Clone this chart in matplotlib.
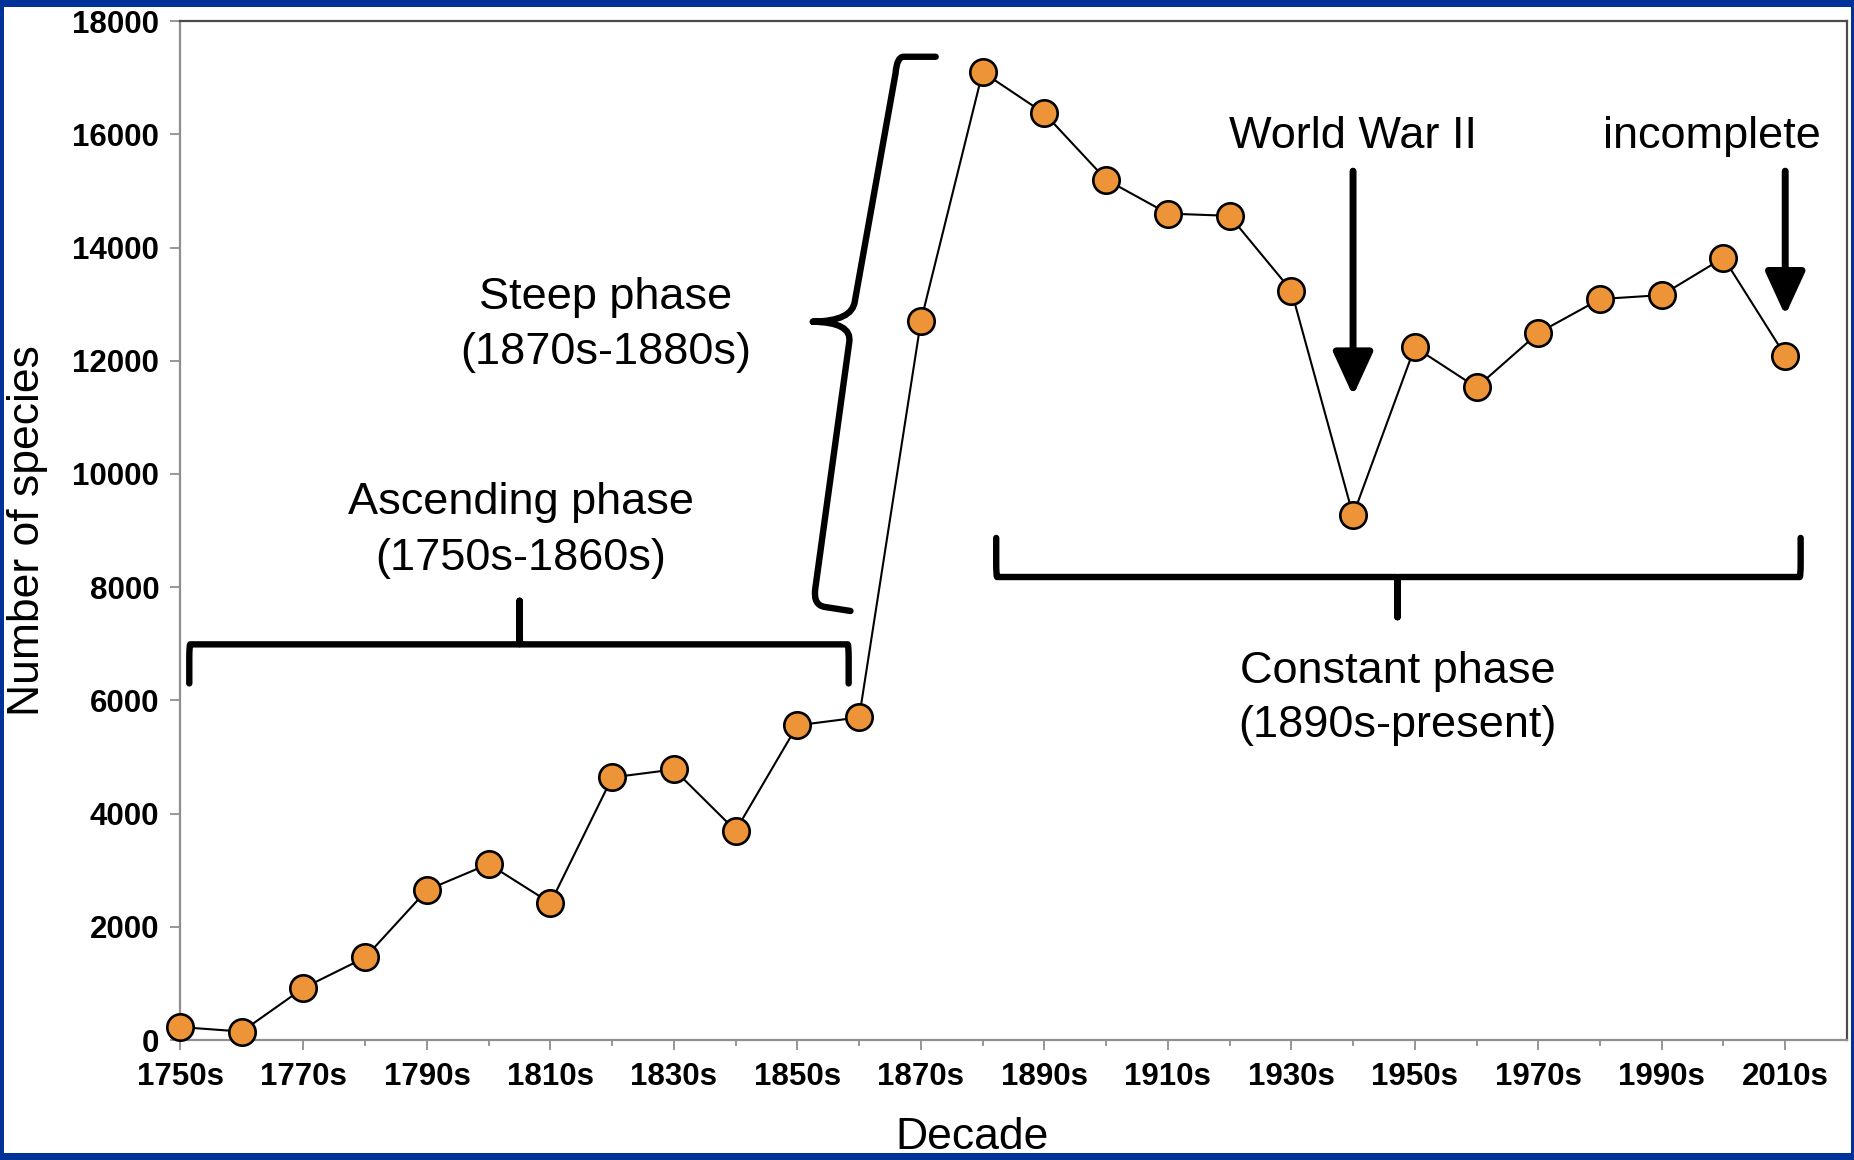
import numpy as np
import matplotlib
matplotlib.use('Agg')
import matplotlib.pyplot as plt
from matplotlib.path import Path
from matplotlib.patches import PathPatch, Rectangle

plt.rcParams['font.family'] = ['Liberation Sans', 'DejaVu Sans']

# species described per decade
decades = [1750, 1760, 1770, 1780, 1790, 1800, 1810, 1820, 1830, 1840,
           1850, 1860, 1870, 1880, 1890, 1900, 1910, 1920, 1930, 1940,
           1950, 1960, 1970, 1980, 1990, 2000, 2010]
species = [230, 150, 920, 1460, 2650, 3110, 2420, 4640, 4780, 3700,
           5560, 5700, 12700, 17100, 16370, 15200, 14600, 14560, 13240, 9270,
           12240, 11530, 12490, 13090, 13160, 13820, 12090]
labeled_decades = decades[::2]
tick_labels = ['%ds' % d for d in labeled_decades]

BLUE = '#00339A'
ORANGE = '#EE9438'

fig = plt.figure(figsize=(18.54, 11.6), dpi=100)
fig.patch.set_facecolor('white')
ax = fig.add_axes([0.0971, 0.1034, 0.8991, 0.8784])

ax.plot(decades, species, color='black', lw=1.5, marker='o', ms=19,
        mfc=ORANGE, mec='black', mew=1.9, zorder=3, clip_on=False)

ax.set_xlim(1750, 2020)
ax.set_ylim(0, 18000)
ax.set_yticks(np.arange(0, 18001, 2000))
ax.set_xticks(labeled_decades)
ax.set_xticklabels(tick_labels)
ax.set_xticks(decades[1::2], minor=True)

for s in ['left', 'bottom']:
    ax.spines[s].set_color('#8f8f8f')
    ax.spines[s].set_linewidth(1.6)
for s in ['top', 'right']:
    ax.spines[s].set_color('#4a4a4a')
    ax.spines[s].set_linewidth(1.6)

ax.tick_params(axis='both', which='major', direction='out', length=7,
               width=1.3, color='#8f8f8f', labelsize=22.5)
ax.tick_params(axis='x', which='minor', direction='out', length=4.5,
               width=1.3, color='#8f8f8f')
ax.tick_params(axis='x', pad=9)
ax.tick_params(axis='y', pad=8)
for lab in ax.get_xticklabels() + ax.get_yticklabels():
    lab.set_fontweight('bold')

ax.set_ylabel('Number of species', fontsize=32)
ax.yaxis.set_label_coords(-0.079, 0.5)
ax.set_xlabel('Decade', fontsize=32)
ax.xaxis.set_label_coords(0.475, -0.0756)


def hbrace(x0, x1, xt, yb, ye, yt, rx=0.15, ry=260, rt=260):
    s = np.sign(ye - yb)
    st = np.sign(yt - yb)
    verts = [(x0, ye), (x0, yb + s * ry), (x0, yb), (x0 + rx, yb),
             (xt - rx, yb), (xt, yb), (xt, yb + st * rt), (xt, yt),
             (xt, yt), (xt, yb + st * rt), (xt, yb), (xt + rx, yb),
             (x1 - rx, yb), (x1, yb), (x1, yb + s * ry), (x1, ye)]
    codes = [Path.MOVETO, Path.LINETO, Path.CURVE3, Path.CURVE3,
             Path.LINETO, Path.CURVE3, Path.CURVE3, Path.LINETO,
             Path.MOVETO, Path.LINETO, Path.CURVE3, Path.CURVE3,
             Path.LINETO, Path.CURVE3, Path.CURVE3, Path.LINETO]
    return Path(verts, codes)


brace_kw = dict(fill=False, lw=4.6, edgecolor='black', capstyle='round',
                joinstyle='round', zorder=4)

# ascending phase brace
ax.add_patch(PathPatch(hbrace(1751.5, 1858.3, 1805.0, 6990, 6300, 7760), **brace_kw))
# constant phase brace
ax.add_patch(PathPatch(hbrace(1882.2, 2012.5, 1947.2, 8180, 8870, 7470), **brace_kw))

# steep phase brace (slanted, opening to the right)
steep_verts = [(1872.4, 17370), (1867.2, 17370), (1866.1, 17370), (1865.9, 17080),
               (1859.3, 13050), (1858.9, 12700), (1852.5, 12690),
               (1852.5, 12690), (1858.9, 12680), (1858.4, 12330),
               (1852.9, 7980), (1852.5, 7680), (1854.5, 7650), (1858.6, 7580)]
steep_codes = [Path.MOVETO, Path.LINETO, Path.CURVE3, Path.CURVE3,
               Path.LINETO, Path.CURVE3, Path.CURVE3,
               Path.MOVETO, Path.CURVE3, Path.CURVE3,
               Path.LINETO, Path.CURVE3, Path.CURVE3, Path.LINETO]
ax.add_patch(PathPatch(Path(steep_verts, steep_codes), **brace_kw))

txt = dict(fontsize=32.5, ha='center', va='center', zorder=5)
ax.text(1819.0, 13110, 'Steep phase', **txt)
ax.text(1819.0, 12150, '(1870s-1880s)', **txt)
ax.text(1805.2, 9500, 'Ascending phase', **txt)
ax.text(1805.2, 8515, '(1750s-1860s)', **txt)
ax.text(1947.2, 6510, 'Constant phase', **txt)
ax.text(1947.2, 5550, '(1890s-present)', **txt)
ax.text(1940.0, 15970, 'World War II', **txt)
ax.text(1998.1, 15970, 'incomplete', **txt)

arrow_kw = dict(arrowstyle='-|>,head_length=1.2,head_width=0.55',
                lw=5, color='black', mutation_scale=22, shrinkA=0, shrinkB=0)
ax.annotate('', xy=(1940, 11380), xytext=(1940, 15350), arrowprops=arrow_kw)
ax.annotate('', xy=(2010, 12800), xytext=(2010, 15350), arrowprops=arrow_kw)

# blue frame round the slide
W, H = 1854.0, 1160.0
for x, y, w, h in [(0, 0, 4 / W, 1), (0, 0, 1, 7 / H),
                   (1 - 3 / W, 0, 3 / W, 1), (0, 1 - 7 / H, 1, 7 / H)]:
    fig.add_artist(Rectangle((x, y), w, h, transform=fig.transFigure,
                             facecolor=BLUE, edgecolor='none', zorder=10))

fig.savefig('out.png', dpi=100)
